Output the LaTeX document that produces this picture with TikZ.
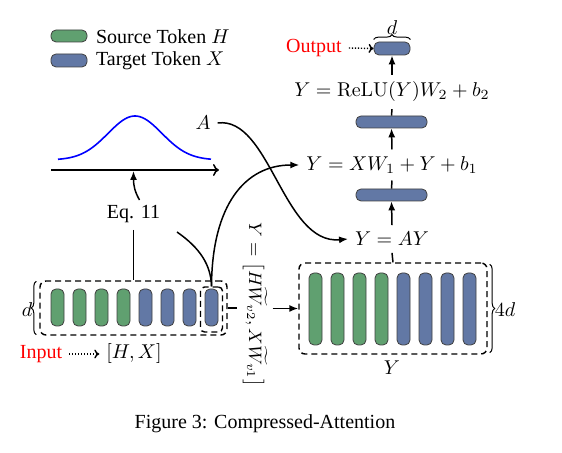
\documentclass[tikz,border=0pt]{standalone}
\usepackage[no-math]{fontspec}
\setmainfont{Liberation Serif}
\usepackage{amsmath}
\usetikzlibrary{arrows.meta,decorations.pathreplacing,calc}
\definecolor{tokgreen}{RGB}{96,160,112}
\definecolor{tokblue}{RGB}{98,120,165}
\begin{document}
\begin{tikzpicture}[x=0.5pt,y=-0.5pt,
  tok/.style={draw=black!75, line width=0.4pt, rounded corners=2.5pt, inner sep=0pt, minimum width=6.5pt},
  gtok/.style={tok, fill=tokgreen},
  btok/.style={tok, fill=tokblue},
  dbox/.style={draw, dash pattern=on 3pt off 2pt, line width=0.7pt, rounded corners=3pt, inner sep=0pt},
  conn/.style={line width=0.75pt},
  arr/.style={conn, -{Latex[length=4.5pt,width=3.5pt]}},
  dotarr/.style={line width=0.7pt, dash pattern=on 0.6pt off 0.9pt, -{To[length=2.5pt,width=4.5pt]}},
  brc/.style={line width=0.5pt, decorate, decoration={brace, amplitude=2.5pt}}
]
\useasboundingbox (0,0) rectangle (562,453);

% legend
\node[gtok, minimum width=18pt, minimum height=6pt] (lg1) at (69,36) {};
\node[anchor=west] (lt1) at (89,37) {Source Token $H$};
\node[btok, minimum width=18pt, minimum height=6.5pt] (lg2) at (69,60.5) {};
\node[anchor=west] (lt2) at (89,61) {Target Token $X$};

% axis and bell curve
\coordinate (ax0) at (51,170);
\coordinate (ax1) at (219,170);
\coordinate (axm) at (133.5,171);
\draw[conn, -{To[length=3pt,width=6pt]}] (ax0) -- (ax1);
\draw[blue, line width=0.8pt] plot[domain=58:211, samples=70, smooth] (\x, {160-44*exp(-((\x-135)/38)^2)});

% input tokens
\foreach \k in {1,...,4} \node[gtok, minimum height=18.5pt] (i\k) at ({57.5+22*(\k-1)},307.5) {};
\foreach \k in {5,...,8} \node[btok, minimum height=18.5pt] (i\k) at ({57.5+22*(\k-1)},307.5) {};
\node[dbox, minimum width=93.5pt, minimum height=27pt] (inbox) at (133.5,308) {};
\node[dbox, rounded corners=2pt, minimum width=11pt, minimum height=22.5pt] (qbox) at (211.5,309.5) {};
\draw[brc] ($(inbox.south west)+(-3,-1)$) -- ($(inbox.north west)+(-3,1)$);
\node (dl) at (27,310) {$d$};

% Eq. 11
\node (eq) at (133.5,214) {Eq. 11};
\draw[conn] (eq.south) -- (inbox.north);
\coordinate (eqs) at (139.5,200);
\draw[arr] (eqs) .. controls (135,192) and (133.5,186) .. (axm);
\coordinate (c1) at (177,232);
\draw[conn] (c1) .. controls (200,248) and (211,265) .. (qbox.north);

% input label
\node[text=red] (inl) at (41,354) {Input};
\node (hx) at (134,354) {$[H,X]$};
\draw[dotarr] (inl.east) -- (hx.west);

% rotated label
\node[rotate=-90, inner sep=2.5pt, font=\small] (lab) at (255,305) {$Y=\bigl[H\widetilde{W}_{v2},X\widetilde{W}_{v1}\bigr]$};

% Y tokens
\foreach \k in {1,...,4} \node[gtok, minimum height=36pt] (y\k) at ({315.5+22*(\k-1)},309) {};
\foreach \k in {5,...,8} \node[btok, minimum height=36pt] (y\k) at ({315.5+22*(\k-1)},309) {};
\node[dbox, minimum width=94pt, minimum height=45.5pt] (ybox) at (393,308.5) {};
\draw[brc] ($(ybox.north east)+(2,2)$) -- ($(ybox.south east)+(2,-2)$);
\node (fd) at (505,310) {$4d$};
\node (ylab) at (392,368) {$Y$};

\draw[conn] (inbox.east) -- (inbox.east -| lab.south);
\draw[arr] (lab.north |- ybox.west) -- (ybox.west);

% right column
\node (yay) at (392,239) {$Y=AY$};
\node[btok, minimum width=35.5pt, minimum height=6pt] (bar1) at (391.5,195) {};
\node (f1) at (392,165) {$Y=XW_1+Y+b_1$};
\node[btok, minimum width=35.5pt, minimum height=6pt] (bar2) at (391.5,122) {};
\node (f2) at (392,92) {$Y=\mathrm{ReLU}(Y)W_2+b_2$};
\node[btok, minimum width=18pt, minimum height=6.5pt] (out) at (392,48.5) {};
\draw[brc] ($(out.north west)+(0,-2)$) -- ($(out.north east)+(0,-2)$);
\node (od) at (392,28) {$d$};
\node[text=red] (outl) at (314,48) {Output};
\draw[dotarr] (outl.east) -- (out.west);

\draw[conn] (ybox.north) -- (yay.south);
\draw[arr] (yay.north) -- (bar1.south);
\draw[conn] (bar1.north) -- (f1.south);
\draw[arr] (f1.north) -- (bar2.south);
\draw[conn] (bar2.north) -- (f2.south);
\draw[arr] (f2.north) -- (out.south);

% A and curves
\node (A) at (203,123) {$A$};
\draw[arr] (A.east) .. controls (270,116) and (283,245) .. (yay.west);
\draw[arr] (qbox.north) .. controls (212,205) and (245,165) .. (f1.west);

% caption
\node (cap) at (265,424) {Figure 3: Compressed-Attention};
\end{tikzpicture}
\end{document}
